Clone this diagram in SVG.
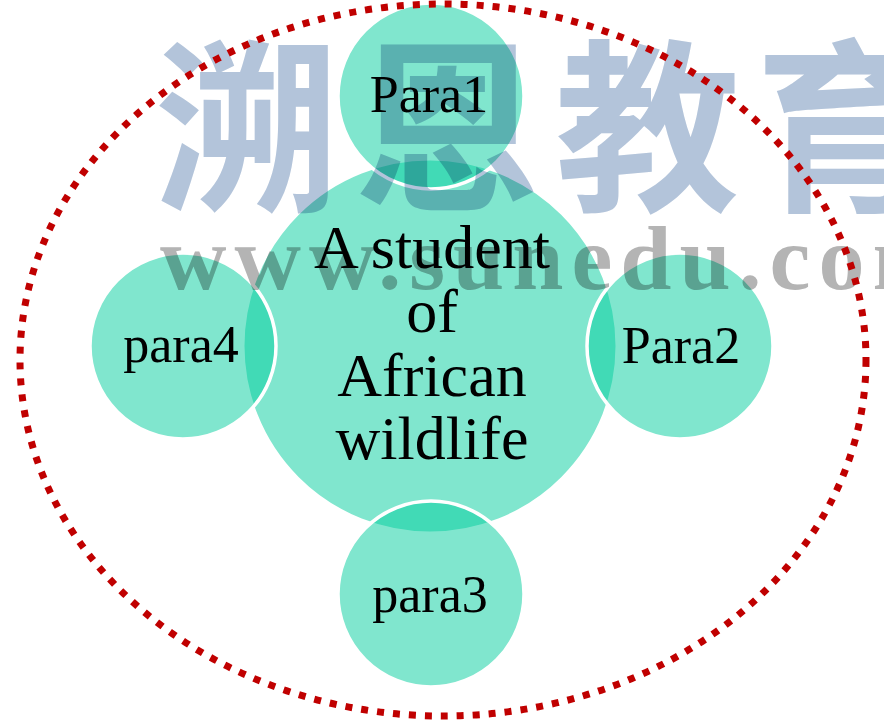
<svg xmlns="http://www.w3.org/2000/svg" width="884" height="728" viewBox="0 0 884 728">
  <style>
    .hub { fill: #01CD9D; fill-opacity: 0.5; stroke: #FFFFFF; stroke-width: 3; }
    .sat { fill: #01CD9D; fill-opacity: 0.5; stroke: #FFFFFF; stroke-width: 3.5; }
    .lbl { font-family: "Liberation Serif", "Times New Roman", serif; fill: #000000; text-anchor: middle; }
    .sat-lbl { font-size: 52px; }
    .hub-lbl { font-size: 62px; }
    .wm-cn { font-family: "Noto Sans CJK SC", sans-serif; font-weight: 700; font-size: 185px; fill: #B3C4DA; mix-blend-mode: multiply; }
    .wm-en { font-family: "Liberation Serif", serif; font-weight: bold; font-size: 92px; fill: #B4B4B4; mix-blend-mode: multiply; }
    .frame { fill: none; stroke: #C00000; stroke-width: 7; stroke-dasharray: 7 9; }
  </style>
  <rect x="0" y="0" width="884" height="728" fill="#FFFFFF"/>

  <g id="center">
    <circle class="hub" cx="430" cy="346" r="187"/>
  </g>
  <g id="para1">
    <circle class="sat" cx="431" cy="96" r="93"/>
  </g>
  <g id="para2">
    <circle class="sat" cx="680" cy="346" r="93"/>
  </g>
  <g id="para3">
    <circle class="sat" cx="431" cy="594" r="93"/>
  </g>
  <g id="para4">
    <circle class="sat" cx="183" cy="346" r="93"/>
  </g>

  <g id="watermark">
    <text class="wm-cn" x="155" y="197" letter-spacing="15">溯恩教育</text>
    <text class="wm-en" x="160" y="289" letter-spacing="8">www.sunedu.com</text>
  </g>

  <g id="connectors">
    <ellipse class="frame" cx="443" cy="360" rx="423" ry="356"/>
  </g>

  <g id="labels">
    <text class="lbl sat-lbl" x="429" y="112">Para1</text>
    <text class="lbl sat-lbl" x="681" y="363">Para2</text>
    <text class="lbl sat-lbl" x="430" y="612">para3</text>
    <text class="lbl sat-lbl" x="181" y="362">para4</text>
    <text class="lbl hub-lbl" x="432" y="268">A student</text>
    <text class="lbl hub-lbl" x="432" y="332">of</text>
    <text class="lbl hub-lbl" x="432" y="396">African</text>
    <text class="lbl hub-lbl" x="432" y="459">wildlife</text>
  </g>
</svg>
